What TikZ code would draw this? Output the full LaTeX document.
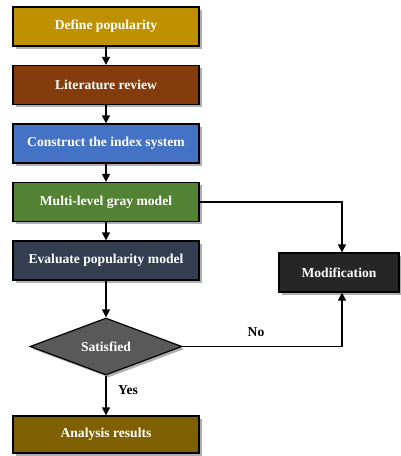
\documentclass[tikz,border=0pt]{standalone}
\usepackage{fontspec}
\setmainfont{Liberation Serif}
\usetikzlibrary{shapes.geometric,shadows,arrows.meta}
\definecolor{cA}{HTML}{BF9000}
\definecolor{cB}{HTML}{843C0C}
\definecolor{cC}{HTML}{4472C4}
\definecolor{cD}{HTML}{548235}
\definecolor{cE}{HTML}{333F50}
\definecolor{cF}{HTML}{262626}
\definecolor{cG}{HTML}{595959}
\definecolor{cH}{HTML}{7F6000}
\begin{document}
\begin{tikzpicture}[x=1pt,y=-1pt,
  shd/.style={drop shadow={shadow xshift=2.5pt,shadow yshift=-2.5pt,fill=black!45,opacity=0.7}},
  stepbox/.style={draw=black,line width=1.2pt,rectangle,minimum width=186pt,minimum height=39pt,inner sep=0pt,text=white,font=\fontsize{13.6}{15}\selectfont\bfseries,shd},
  decide/.style={draw=black,line width=1.2pt,diamond,aspect=2.67,minimum width=152pt,minimum height=57pt,inner sep=0pt,text=white,font=\fontsize{13.6}{15}\selectfont\bfseries,shd},
  arr/.style={-{Triangle[length=8pt,width=8pt]},line width=1.2pt,black},
  lbl/.style={font=\fontsize{13.6}{15}\selectfont\bfseries,text=black}]
\useasboundingbox (0,0) rectangle (401,456);
\node[stepbox,fill=cA] (n1) at (106,26.5) {Define popularity};
\node[stepbox,fill=cB] (n2) at (106,85) {Literature review};
\node[stepbox,fill=cC] (n3) at (106,143.5) {Construct the index system};
\node[stepbox,fill=cD] (n4) at (106,202) {Multi-level gray model};
\node[stepbox,fill=cE] (n5) at (106,260.5) {Evaluate popularity model};
\node[stepbox,fill=cF,minimum width=120pt] (mod) at (339,272.5) {Modification};
\node[decide,fill=cG] (sat) at (106,346.5) {Satisfied};
\node[stepbox,fill=cH,minimum height=37pt] (res) at (106,434.5) {Analysis results};
\coordinate (mt) at ([xshift=3pt]mod.north);
\coordinate (mb) at ([xshift=3pt]mod.south);
\draw[arr] (n1) -- (n2);
\draw[arr] (n2) -- (n3);
\draw[arr] (n3) -- (n4);
\draw[arr] (n4) -- (n5);
\draw[arr] (n5) -- (sat);
\draw[arr] (sat) -- (res);
\draw[arr] (n4.east) -| (mt);
\draw[arr] (sat.east) -| (mb);
\node[lbl] (no) at (256,332) {No};
\node[lbl] (yes) at (128,390) {Yes};
\end{tikzpicture}
\end{document}
